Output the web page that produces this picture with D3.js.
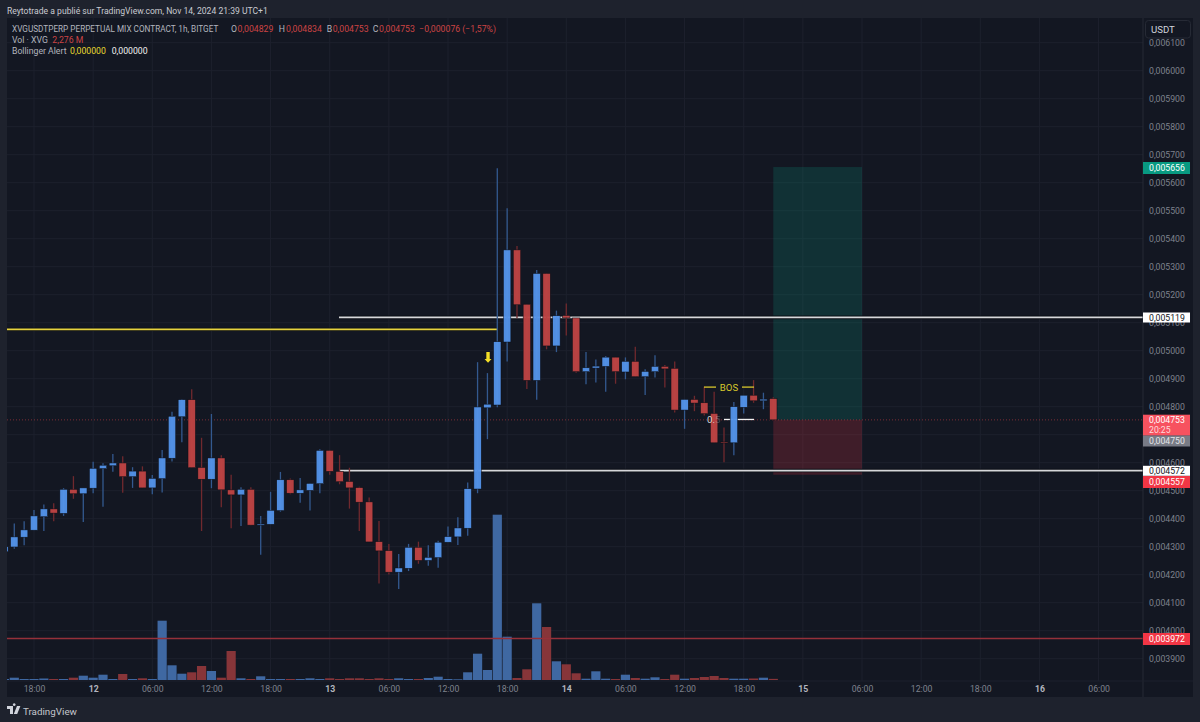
<!DOCTYPE html>
<html>
<head>
<meta charset="utf-8">
<script src="https://cdn.jsdelivr.net/npm/d3@7"></script>
<style>
html,body{margin:0;padding:0;background:#1e222d;}
svg{display:block;}
text{font-family:Roboto,"Noto Sans",sans-serif;}
</style>
</head>
<body>
<svg></svg>
<script>
// prices are in millionths of USDT, first candle is Nov 11 15:00, one per hour
var opens = [4282,4299,4334,4359,4407,4435,4419,4505,4489,4509,4579,4589,4599,4550,4570,4510,4543,4616,4764,4825,4583,4541,4617,4503,4485,4505,4377,4380,4429,4539,4491,4501,4525,4644,4569,4533,4511,4460,4318,4286,4209,4223,4298,4251,4261,4316,4335,4366,4506,4796,4806,5031,5360,5166,4894,5276,5017,5126,5117,4925,4938,4944,4977,4924,4962,4907,4925,4944,4937,4788,4826,4814,4776,4674,4671,4798,4841,4821,4829];
var highs = [4305,4383,4391,4431,4451,4455,4509,4552,4510,4603,4598,4631,4623,4584,4587,4556,4645,4782,4827,4862,4689,4774,4627,4557,4512,4512,4410,4496,4567,4544,4545,4526,4648,4645,4627,4582,4514,4476,4392,4310,4274,4310,4318,4305,4321,4372,4405,4529,4959,4920,5652,5509,5374,5166,5288,5276,5143,5169,5117,4995,4969,4981,4977,4976,5014,4934,4984,4949,4961,4826,4839,4871,4853,4726,4817,4841,4895,4850,4834];
var lows = [4280,4293,4305,4359,4356,4391,4410,4471,4388,4491,4443,4568,4493,4510,4510,4487,4494,4604,4673,4582,4356,4509,4441,4366,4374,4377,4271,4380,4425,4487,4457,4429,4491,4557,4523,4436,4356,4317,4169,4201,4149,4213,4239,4232,4225,4316,4306,4339,4491,4684,4798,4961,5116,4863,4825,5005,4995,5054,4921,4880,4886,4853,4882,4898,4907,4842,4904,4869,4779,4721,4784,4769,4671,4602,4627,4776,4814,4791,4753];
var closes = [4300,4335,4360,4410,4435,4420,4505,4489,4510,4580,4591,4599,4550,4570,4510,4544,4617,4766,4825,4582,4541,4617,4503,4485,4505,4377,4381,4430,4539,4491,4503,4526,4644,4569,4532,4510,4459,4317,4285,4209,4224,4298,4251,4262,4316,4336,4367,4507,4799,4809,5032,5360,5164,4894,5276,5017,5125,5117,4925,4939,4945,4977,4925,4962,4907,4926,4944,4935,4788,4826,4813,4775,4671,4671,4800,4841,4821,4827,4753];
var volumes = [2,4.6,2,2,3,2,2,4.6,8.6,4.6,10.6,2,12,2,3.4,2,118.6,29.4,12.6,15.4,28,18,4.6,58,3.4,2,7.4,2,2,2,2,3.4,2,3.4,2,3.4,3.4,2,3.4,2,3.4,2,2,4,6.6,2,1.4,15.4,52.6,20,330.6,86.6,4,21.4,153.4,106,37.4,31.4,13.4,2.6,17.4,2.6,2,10.6,4,2.6,5.4,2,10.6,2.6,4,6,8,4,2.6,2.6,3,4.6,2.276];

var priceTicks = [3900,4000,4100,4200,4300,4400,4500,4600,4700,4800,4900,5000,5100,5200,5300,5400,5500,5600,5700,5800,5900,6000,6100];
// 0,004700 sits fully behind the last price tag, so no label for it
var hiddenTicks = [4700];
// hours after Nov 11 18:00
var timeTicks = [0,6,12,18,24,30,36,42,48,54,60,66,72,78,84,90,96,102,108];
var timeLabels = ["18:00","12","06:00","12:00","18:00","13","06:00","12:00","18:00","14","06:00","12:00","18:00","15","06:00","12:00","18:00","16","06:00"];

var lastPrice = 4753, tpPrice = 5656, slPrice = 4557, upperLevel = 5119, lowerLevel = 4572, redLevel = 3972, yellowLevel = 5076, bosLevel = 4870;
var firstHour = -3;

var screen = {width:1200, height:722};
var pane = {left:7, right:1143, top:18, bottom:681, axisRight:1193, axisBottom:697};

var blue = "#5393e8", red = "#bd4444";
var green = "#089981";
var fontSize = 8.7;

var svg = d3.select("svg").attr("width",screen.width).attr("height",screen.height);

var xScale = d3.scaleLinear().domain([0,84]).range([34,862]);
var yScale = d3.scaleLinear().domain([4800,6000]).range([406.7,70.7]);
var volScale = d3.scaleLinear().domain([0,340]).range([680,510]);

var hour = function(i){return i+firstHour;};
var isUp = function(i){return closes[i]>=opens[i];};

svg.append("rect").attr("width",screen.width).attr("height",screen.height).attr("fill","#1e222d");
svg.append("rect").attr("x",pane.left).attr("y",pane.top)
   .attr("width",pane.axisRight-pane.left).attr("height",pane.axisBottom-pane.top)
   .attr("fill","#131722");

svg.append("defs").append("clipPath").attr("id","paneClip").append("rect")
   .attr("x",pane.left).attr("y",pane.top)
   .attr("width",pane.right-pane.left).attr("height",pane.bottom-pane.top);

var plot = svg.append("g").attr("clip-path","url(#paneClip)");

// grid
plot.selectAll("line.vgrid").data(timeTicks).enter().append("line")
    .attr("x1",function(d){return xScale(d);}).attr("x2",function(d){return xScale(d);})
    .attr("y1",pane.top).attr("y2",pane.bottom)
    .attr("stroke","#1d212d");
plot.selectAll("line.hgrid").data(priceTicks).enter().append("line")
    .attr("y1",function(d){return yScale(d);}).attr("y2",function(d){return yScale(d);})
    .attr("x1",pane.left).attr("x2",pane.right)
    .attr("stroke","#1d212d");

// long / short box
var boxX = xScale(75), boxW = xScale(84)-xScale(75);
plot.append("rect").attr("x",boxX).attr("width",boxW)
    .attr("y",yScale(tpPrice)).attr("height",yScale(lastPrice)-yScale(tpPrice))
    .attr("fill",green).attr("fill-opacity",0.2);
plot.append("rect").attr("x",boxX).attr("width",boxW)
    .attr("y",yScale(lastPrice)).attr("height",yScale(slPrice)-yScale(lastPrice))
    .attr("fill","#f23645").attr("fill-opacity",0.2);

// volume
plot.selectAll("rect.vol").data(volumes).enter().append("rect")
    .attr("class","vol")
    .attr("x",function(d,i){return xScale(hour(i))-4.6;})
    .attr("width",9.2)
    .attr("y",function(d){return volScale(d);})
    .attr("height",function(d){return volScale(0)-volScale(d);})
    .attr("fill",function(d,i){return isUp(i)?"#3f68a2":"#873539";});

// last price line
plot.append("line").attr("x1",pane.left).attr("x2",pane.right)
    .attr("y1",yScale(lastPrice)).attr("y2",yScale(lastPrice))
    .attr("stroke","#a8383f").attr("stroke-opacity",0.7).attr("stroke-dasharray","1 2");

// levels
plot.append("line").attr("x1",pane.left).attr("x2",pane.right)
    .attr("y1",yScale(redLevel)).attr("y2",yScale(redLevel))
    .attr("stroke","#95303a").attr("stroke-width",1.4);

[upperLevel,lowerLevel].forEach(function(level){
  plot.append("line").attr("x1",339).attr("x2",pane.right)
      .attr("y1",yScale(level)).attr("y2",yScale(level))
      .attr("stroke","#0b0e15").attr("stroke-width",3.6);
  plot.append("line").attr("x1",339).attr("x2",pane.right)
      .attr("y1",yScale(level)).attr("y2",yScale(level))
      .attr("stroke","#d6d7da").attr("stroke-width",1.8);
});
plot.append("line").attr("x1",pane.left).attr("x2",xScale(47))
    .attr("y1",yScale(yellowLevel)).attr("y2",yScale(yellowLevel))
    .attr("stroke","#0b0e15").attr("stroke-width",3.2);
plot.append("line").attr("x1",pane.left).attr("x2",xScale(47))
    .attr("y1",yScale(yellowLevel)).attr("y2",yScale(yellowLevel))
    .attr("stroke","#e6d23f").attr("stroke-width",1.7);

// 0.5 fib piece, goes behind the candles
plot.append("line").attr("x1",724).attr("x2",754)
    .attr("y1",yScale(lastPrice)-0.4).attr("y2",yScale(lastPrice)-0.4)
    .attr("stroke","#f2f2f2").attr("stroke-width",1.3);

// candles
plot.selectAll("line.wick").data(opens).enter().append("line")
    .attr("class","wick")
    .attr("x1",function(d,i){return xScale(hour(i));})
    .attr("x2",function(d,i){return xScale(hour(i));})
    .attr("y1",function(d,i){return yScale(highs[i]);})
    .attr("y2",function(d,i){return yScale(lows[i]);})
    .attr("stroke",function(d,i){return isUp(i)?"#33598f":"#70292e";})
    .attr("stroke-width",1.3);

plot.selectAll("rect.body").data(opens).enter().append("rect")
    .attr("class","body")
    .attr("x",function(d,i){return xScale(hour(i))-3.7;})
    .attr("width",7.4)
    .attr("y",function(d,i){return yScale(Math.max(opens[i],closes[i]));})
    .attr("height",function(d,i){return Math.max(1,Math.abs(yScale(opens[i])-yScale(closes[i])));})
    .attr("fill",function(d,i){return isUp(i)?blue:red;})
    .attr("fill-opacity",0.96)
    .attr("stroke","#0c0f17").attr("stroke-width",0.5);

// alert arrow above the 17:00 candle
var arrowX = xScale(46)+0.6, arrowY = yScale(4920)-21;
plot.append("path")
    .attr("d","M"+(arrowX-1.7)+","+arrowY+"h3.4v7h1.8l-3.5,3.6l-3.5,-3.6h1.8z")
    .attr("fill","#f4df27");

// BOS
plot.append("line").attr("x1",704).attr("x2",716)
    .attr("y1",yScale(bosLevel)).attr("y2",yScale(bosLevel))
    .attr("stroke","#d8c72c").attr("stroke-width",1.3);
plot.append("line").attr("x1",742).attr("x2",754)
    .attr("y1",yScale(bosLevel)).attr("y2",yScale(bosLevel))
    .attr("stroke","#d8c72c").attr("stroke-width",1.3);
plot.append("text").attr("x",729).attr("y",yScale(bosLevel)+3.5)
    .attr("text-anchor","middle").attr("font-size",9.6)
    .attr("fill","#d8c72c").text("BOS");

var fib = plot.append("text").attr("x",707).attr("y",yScale(lastPrice)+3.4)
    .attr("font-size",9.6).attr("fill","#d9dadd");
fib.append("tspan").text("0.");
fib.append("tspan").attr("fill-opacity",0.3).text("5");

// axes
var priceFormat = function(d){return (d/1e6).toFixed(6).replace(".",",");};

var yAxis = d3.axisRight(yScale)
    .tickValues(priceTicks.filter(function(d){return hiddenTicks.indexOf(d)<0;}))
    .tickSize(0).tickPadding(6).tickFormat(priceFormat);
var yG = svg.append("g").attr("transform","translate("+pane.right+",0)").call(yAxis);
yG.select(".domain").remove();
yG.selectAll("text").attr("font-size",fontSize).attr("fill","#7f828d");

var xAxis = d3.axisBottom(xScale).tickValues(timeTicks).tickSize(0).tickPadding(5)
    .tickFormat(function(d,i){return timeLabels[i];});
var xG = svg.append("g").attr("transform","translate(0,"+pane.bottom+")").call(xAxis);
xG.select(".domain").remove();
xG.selectAll("text").attr("font-size",fontSize)
  .attr("fill",function(d,i){return timeLabels[i].length<3?"#b2b5be":"#7f828d";})
  .attr("font-weight",function(d,i){return timeLabels[i].length<3?"bold":"normal";});

svg.append("line").attr("x1",pane.right).attr("x2",pane.right).attr("y1",pane.top).attr("y2",pane.axisBottom).attr("stroke","#262a35");
svg.append("line").attr("x1",pane.left).attr("x2",pane.axisRight).attr("y1",pane.bottom).attr("y2",pane.bottom).attr("stroke","#1d212d");

// price labels on the axis
var priceTags = [
  {y:168, h:12, bg:green, fg:"#ffffff", t:"0,005656"},
  {y:317.5, h:10, bg:"#ffffff", fg:"#131722", t:"0,005119"},
  {y:441, h:11, bg:"#787b86", fg:"#e4e5e8", t:"0,004750"},
  {y:470.8, h:10, bg:"#ffffff", fg:"#131722", t:"0,004572"},
  {y:482, h:12, bg:"#f23645", fg:"#ffffff", t:"0,004557"},
  {y:639, h:12, bg:"#f23645", fg:"#ffffff", t:"0,003972"}
];
svg.append("rect").attr("x",pane.right).attr("width",47).attr("y",414.7).attr("height",21).attr("fill","#f7525f");
svg.append("text").attr("x",1149).attr("y",423.2).attr("font-size",fontSize).attr("fill","#ffffff").text("0,004753");
svg.append("text").attr("x",1149).attr("y",432.8).attr("font-size",fontSize).attr("fill","#ffd9dc").text("20:25");
priceTags.forEach(function(d){
  svg.append("rect").attr("x",pane.right).attr("width",47).attr("y",d.y-d.h/2).attr("height",d.h).attr("fill",d.bg);
  svg.append("text").attr("x",1149).attr("y",d.y+3.1).attr("font-size",fontSize).attr("fill",d.fg).text(d.t);
});

// USDT button
svg.append("rect").attr("x",1145.5).attr("y",20.5).attr("width",45).attr("height",17.5).attr("rx",3)
   .attr("fill","#131722").attr("stroke","#262a35");
svg.append("text").attr("x",1151).attr("y",32.6).attr("font-size",9.6).attr("fill","#d1d4dc").text("USDT");

// header and legend
var grey = "#b2b5be", legendRed = "#cc4444";
var label = function(x,y,s,col,size){
  svg.append("text").attr("x",x).attr("y",y).attr("font-size",size||fontSize).attr("fill",col).text(s);
};
label(7,14,"Reytotrade a publié sur TradingView.com, Nov 14, 2024 21:39 UTC+1","#c9cbd1",8.6);
label(12,32,"XVGUSDTPERP PERPETUAL MIX CONTRACT, 1h, BITGET",grey,8.2);
label(231,32,"O",grey); label(237.5,32,"0,004829",legendRed);
label(278.7,32,"H",grey); label(286,32,"0,004834",legendRed);
label(326.7,32,"B",grey); label(332.7,32,"0,004753",legendRed);
label(372.7,32,"C",grey); label(379,32,"0,004753",legendRed);
label(419.3,32,"−0,000076 (−1,57%)",legendRed);
label(12,43,"Vol · XVG",grey); label(52.3,43,"2,276 M",legendRed);
label(12,54,"Bollinger Alert",grey); label(70,54,"0,000000","#e8d92f"); label(111.7,54,"0,000000","#f0f0f0");

// logo
svg.append("path").attr("d","M7,706h6v8h-3v-5h-3zM14.2,706a1.4,1.4 0 1,1 0.01,0zM17,706h3.4l-3.2,8h-3.4z")
   .attr("fill","#d1d4dc");
label(23,714.5,"TradingView","#c4c6cc",9.8);
</script>
</body>
</html>
